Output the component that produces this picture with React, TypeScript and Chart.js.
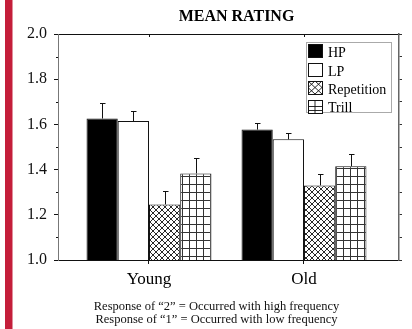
import React, { useEffect, useRef } from "react";
import { Chart, registerables } from "chart.js";

Chart.register(...registerables);

const categories = ["Young", "Old"];
const seriesNames = ["HP", "LP", "Repetition", "Trill"];
const hpValues = [1.626, 1.577];
const lpValues = [1.615, 1.534];
const repetitionValues = [1.246, 1.33];
const trillValues = [1.383, 1.415];
const hpErrors = [0.07, 0.029];
const lpErrors = [0.044, 0.03];
const repetitionErrors = [0.06, 0.05];
const trillErrors = [0.069, 0.052];
const yMin = 1.0;
const yMax = 2.0;
const titleText = "MEAN RATING";
const footnoteLines = [
  "Response of \u201c2\u201d = Occurred with high frequency",
  "Response of \u201c1\u201d = Occurred with low frequency",
];

const seriesValues = [hpValues, lpValues, repetitionValues, trillValues];
const seriesErrors = [hpErrors, lpErrors, repetitionErrors, trillErrors];

const SERIF = "'Liberation Serif', 'Times New Roman', serif";

function makeRepPattern(ctx: CanvasRenderingContext2D) {
  const c = document.createElement("canvas");
  c.width = 6;
  c.height = 6;
  const g = c.getContext("2d")!;
  g.fillStyle = "#fff";
  g.fillRect(0, 0, 6, 6);
  g.strokeStyle = "#111";
  g.lineWidth = 0.9;
  g.beginPath();
  g.moveTo(0, 0);
  g.lineTo(6, 6);
  g.moveTo(0, 6);
  g.lineTo(6, 0);
  g.stroke();
  return ctx.createPattern(c, "repeat")!;
}

function makeTrillPattern(ctx: CanvasRenderingContext2D) {
  const c = document.createElement("canvas");
  c.width = 7;
  c.height = 8;
  const g = c.getContext("2d")!;
  g.fillStyle = "#fff";
  g.fillRect(0, 0, 7, 8);
  g.fillStyle = "#333";
  g.fillRect(0, 0, 1, 8);
  g.fillRect(0, 0, 7, 1);
  return ctx.createPattern(c, "repeat")!;
}

function drawSwatch(c: CanvasRenderingContext2D, i: number, x: number, y: number, w: number, h: number) {
  c.save();
  c.fillStyle = i === 0 ? "#000" : "#fff";
  c.fillRect(x, y, w, h);
  c.strokeStyle = "#111";
  c.lineWidth = 0.9;
  if (i === 2) {
    c.beginPath();
    c.moveTo(x, y);
    c.lineTo(x + w, y + h);
    c.moveTo(x + w, y);
    c.lineTo(x, y + h);
    c.moveTo(x + w / 2, y);
    c.lineTo(x + w, y + h / 2);
    c.lineTo(x + w / 2, y + h);
    c.lineTo(x, y + h / 2);
    c.closePath();
    c.stroke();
  } else if (i === 3) {
    c.beginPath();
    c.moveTo(x + w / 2, y);
    c.lineTo(x + w / 2, y + h);
    c.moveTo(x, Math.round(y + h * 0.45) + 0.5);
    c.lineTo(x + w, Math.round(y + h * 0.45) + 0.5);
    c.moveTo(x, Math.round(y + h * 0.8) + 0.5);
    c.lineTo(x + w, Math.round(y + h * 0.8) + 0.5);
    c.stroke();
  }
  c.lineWidth = 1;
  c.strokeRect(x + 0.5, y + 0.5, w, h);
  c.restore();
}

export default function App() {
  const ref = useRef<HTMLCanvasElement | null>(null);

  useEffect(() => {
    const canvas = ref.current!;
    const ctx = canvas.getContext("2d")!;
    const repPattern = makeRepPattern(ctx);
    const trillPattern = makeTrillPattern(ctx);
    const fills: any[] = ["#000", "#fff", repPattern, trillPattern];

    const extras = {
      id: "extras",
      beforeDraw(chart: any) {
        const c = chart.ctx;
        c.save();
        c.fillStyle = "#fff";
        c.fillRect(0, 0, chart.width, chart.height);
        c.fillStyle = "#c41e3a";
        c.fillRect(5, 0, 7.5, chart.height);
        c.restore();
      },
      afterDatasetsDraw(chart: any) {
        const c = chart.ctx;
        const y = chart.scales.y;
        c.save();
        c.strokeStyle = "#111";
        c.lineWidth = 1;
        seriesValues.forEach((vals, d) => {
          const meta = chart.getDatasetMeta(d);
          meta.data.forEach((bar: any, i: number) => {
            const top = y.getPixelForValue(vals[i] + seriesErrors[d][i]);
            const x = Math.round(bar.x) + 0.5;
            const t = Math.round(top) + 0.5;
            c.beginPath();
            c.moveTo(x, bar.y);
            c.lineTo(x, t);
            c.moveTo(x - 2.5, t);
            c.lineTo(x + 3, t);
            c.stroke();
          });
        });
        c.restore();
      },
      afterDraw(chart: any) {
        const c = chart.ctx;
        const area = chart.chartArea;
        const x = chart.scales.x;
        const y = chart.scales.y;
        c.save();
        c.strokeStyle = "#111";
        c.lineWidth = 1;
        for (let v = yMin + 0.1; v < yMax; v += 0.2) {
          const py = Math.round(y.getPixelForValue(v)) + 0.5;
          c.beginPath();
          c.moveTo(area.left - 2, py);
          c.lineTo(area.left, py);
          c.stroke();
        }
        categories.forEach((_, i) => {
          const px = Math.round(x.getPixelForValue(i)) + 0.5;
          c.beginPath();
          c.moveTo(px, area.top);
          c.lineTo(px, area.top + 3);
          c.stroke();
        });
        c.fillStyle = "#000";
        c.font = `bold 16px ${SERIF}`;
        c.textAlign = "center";
        c.textBaseline = "alphabetic";
        c.fillText(titleText, 236.5, 20.7);
        c.font = `12.5px ${SERIF}`;
        c.fillStyle = "#111";
        footnoteLines.forEach((line, i) => {
          c.fillText(line, 216.5, 310 + i * 13.3);
        });
        const lx = 306.5;
        const ly = 42.5;
        c.strokeStyle = "#aaa";
        c.lineWidth = 1;
        c.strokeRect(lx, ly, 85, 70);
        c.textAlign = "left";
        c.font = `14px ${SERIF}`;
        seriesNames.forEach((name, i) => {
          const sy = Math.round(44 + i * 18.5);
          drawSwatch(c, i, 308, sy, 14, 13);
          c.fillStyle = "#000";
          c.fillText(name, 328, 57.3 + i * 18.3);
        });
        c.restore();
      },
    };

    const chart = new Chart(canvas, {
      type: "bar",
      data: {
        datasets: seriesNames.map((name, d) => ({
          label: name,
          data: categories.map((_, i) => ({ x: i, y: seriesValues[d][i] })),
          backgroundColor: fills[d],
          borderColor: "#111",
          borderWidth: 1,
          borderSkipped: "bottom",
          xAxisID: "x",
          yAxisID: "y",
          categoryPercentage: 0.806,
          barPercentage: 1,
        })),
      },
      options: {
        responsive: false,
        animation: false,
        events: [],
        layout: { padding: { left: 0, right: 0, top: 34, bottom: 0 } },
        plugins: {
          legend: { display: false },
          title: { display: false },
          tooltip: { enabled: false },
        },
        scales: {
          x: {
            type: "linear",
            position: "bottom",
            min: -0.587,
            max: 1.613,
            offset: false,
            afterBuildTicks: (scale: any) => {
              scale.ticks = categories.map((_, i) => ({ value: i }));
            },
            afterFit: (scale: any) => {
              scale.height = 69;
            },
            ticks: {
              callback: (v: any) => categories[v] ?? "",
              font: { family: SERIF, size: 17 },
              color: "#000",
              padding: 5,
              maxRotation: 0,
              autoSkip: false,
            },
            grid: {
              display: true,
              drawOnChartArea: false,
              drawTicks: true,
              tickLength: 4,
              tickColor: "#111",
              offset: false,
            },
            border: { display: true, color: "#111", width: 1 },
          },
          x2: {
            type: "linear",
            position: "top",
            min: -0.587,
            max: 1.613,
            afterFit: (scale: any) => {
              scale.height = 0;
            },
            ticks: { display: false },
            grid: { display: false },
            border: { display: true, color: "#111", width: 1 },
          },
          y: {
            type: "linear",
            position: "left",
            min: yMin,
            max: yMax,
            afterFit: (scale: any) => {
              scale.width = 58;
            },
            ticks: {
              stepSize: 0.2,
              callback: (v: any) => Number(v).toFixed(1),
              font: { family: SERIF, size: 16 },
              color: "#111",
              padding: 7,
            },
            grid: {
              display: true,
              drawOnChartArea: false,
              drawTicks: true,
              tickLength: 4,
              tickColor: "#111",
            },
            border: { display: true, color: "#777", width: 1 },
          },
          y2: {
            type: "linear",
            position: "right",
            min: yMin,
            max: yMax,
            afterFit: (scale: any) => {
              scale.width = 13;
            },
            ticks: { display: false, stepSize: 0.1 },
            grid: {
              display: true,
              drawOnChartArea: false,
              drawTicks: true,
              tickLength: 3,
              tickColor: "#333",
            },
            border: { display: true, color: "#666", width: 1.5 },
          },
        },
      } as any,
      plugins: [extras],
    });

    return () => chart.destroy();
  }, []);

  return (
    <div style={{ position: "fixed", left: 0, top: 0, width: 412, height: 329, background: "#fff" }}>
      <canvas ref={ref} width={412} height={329} style={{ display: "block", width: 412, height: 329 }} />
    </div>
  );
}
